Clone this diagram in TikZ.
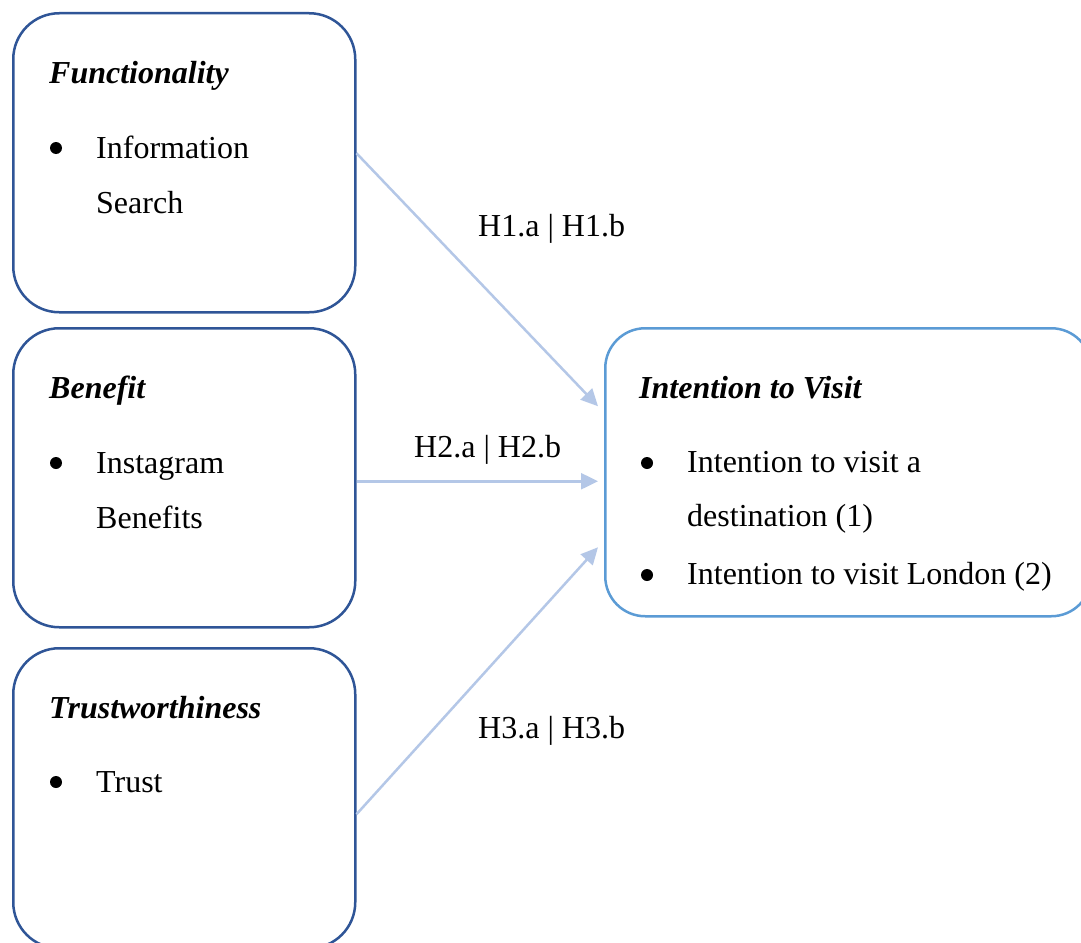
\documentclass[tikz,border=0pt]{standalone}
\usepackage{fontspec}
\setmainfont{Liberation Serif}
\usetikzlibrary{arrows.meta}
\definecolor{boxblue}{HTML}{2F5597}
\definecolor{outblue}{HTML}{5B9BD5}
\definecolor{arrblue}{HTML}{B4C7E7}
\begin{document}
\begin{tikzpicture}[x=1pt,y=-1pt,
  lbox/.style={draw=boxblue, line width=2.5pt, rounded corners=46pt, rectangle, inner sep=0pt, anchor=north west},
  rbox/.style={draw=outblue, line width=2.5pt, rounded corners=40pt, rectangle, inner sep=0pt, anchor=north west},
  txt/.style={anchor=base west, inner sep=0pt, font=\fontsize{32}{38}\selectfont},
  head/.style={anchor=base west, inner sep=0pt, font=\fontsize{32}{38}\selectfont\bfseries\itshape},
  dot/.style={circle, fill=black, inner sep=0pt, minimum size=12pt},
  link/.style={draw=arrblue, line width=2.5pt, -{Triangle[length=17pt,width=16pt]}}]
\clip (0,0) rectangle (1081,942);
\fill[white] (0,0) rectangle (1081,942);
% boxes
\node[lbox, minimum width=342pt, minimum height=299pt] (b1) at (12,12) {};
\node[lbox, minimum width=342pt, minimum height=299pt] (b2) at (12,327) {};
\node[lbox, minimum width=342pt, minimum height=300pt] (b3) at (12,647) {};
\node[rbox, minimum width=486pt, minimum height=288pt] (r) at (604,327) {};
% box 1
\node[head] (h1) at (49,83) {Functionality};
\node[dot] (d1) at (56,148) {};
\node[txt] (t1a) at (96,158) {Information};
\node[txt] (t1b) at (96,213) {Search};
% box 2
\node[head] (h2) at (49,398) {Benefit};
\node[dot] (d2) at (56,463) {};
\node[txt] (t2a) at (96,473) {Instagram};
\node[txt] (t2b) at (96,528) {Benefits};
% box 3
\node[head] (h3) at (49,718) {Trustworthiness};
\node[dot] (d3) at (56,782) {};
\node[txt] (t3a) at (96,792) {Trust};
% right box
\node[head] (hr) at (639,398) {Intention to Visit};
\node[dot] (dr1) at (647,463) {};
\node[txt] (tr1a) at (687,472) {Intention to visit a};
\node[txt] (tr1b) at (687,526) {destination (1)};
\node[dot] (dr2) at (647,575) {};
\node[txt] (tr2) at (687,584) {Intention to visit London (2)};
% arrows
\draw[link] ([yshift=9.5pt]b1.east) -- ([xshift=-6pt,yshift=66pt]r.west);
\draw[link] ([yshift=-3.5pt]b2.east) -- ([xshift=-6pt,yshift=-9pt]r.west);
\draw[link] ([yshift=-16pt]b3.east) -- ([xshift=-6pt,yshift=-75pt]r.west);
% labels
\node[txt] (l1) at (478,236) {H1.a | H1.b};
\node[txt] (l2) at (414,457) {H2.a | H2.b};
\node[txt] (l3) at (478,738) {H3.a | H3.b};
\end{tikzpicture}
\end{document}
